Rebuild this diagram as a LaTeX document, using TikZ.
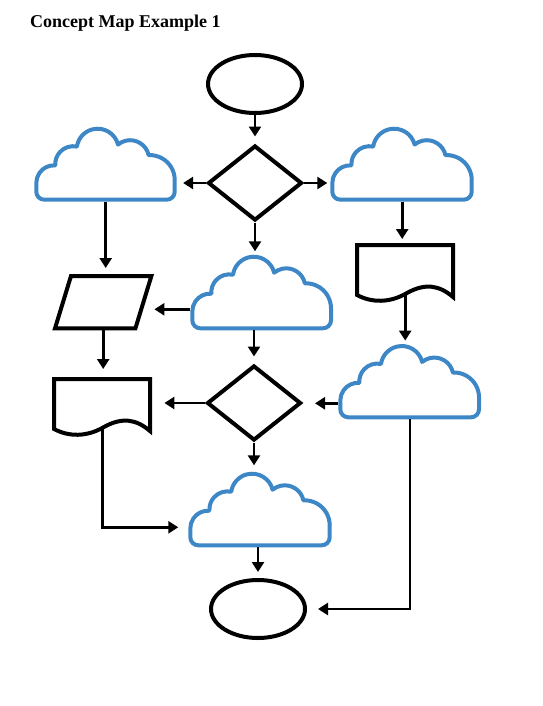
\documentclass[tikz,border=0pt]{standalone}
\usepackage{fontspec}
\setmainfont{Liberation Serif}
\usetikzlibrary{shapes.geometric,arrows.meta,calc}
\definecolor{cloudblue}{HTML}{3D87C6}
\newcommand\cloudoutline{(8,0) -- (130.7,0) arc[start angle=-90,end angle=0,radius=8] -- (138.7,20)
  arc[start angle=0,end angle=92.6,radius=25]
  arc[start angle=12.1,end angle=129.6,radius=19]
  arc[start angle=13.9,end angle=171.8,radius=21]
  arc[start angle=78.1,end angle=184.3,radius=18]
  arc[start angle=85.7,end angle=180,radius=17.7]
  -- (0,8) arc[start angle=180,end angle=270,radius=8] -- cycle}
\newcommand\mkcloud[5]{%
  \begin{scope}[shift={(#2+2,#3-2)}, xscale={(#4-4)/138.7}, yscale={-(#5-4)/71.6}]
    \draw[cloudblue, line width=4pt, fill=white, line join=round] \cloudoutline;
  \end{scope}
  \node[inner sep=0,minimum width=#4*1pt,minimum height=#5*1pt,anchor=south west] (#1) at (#2,#3) {};
}
\tikzset{
  conn/.style={line width=2.7pt, -{Triangle[length=10pt,width=12pt]}},
  shp/.style={draw, line width=4pt, inner sep=0, line join=miter},
  box/.style={inner sep=0, anchor=north west},
}
\begin{document}
\begin{tikzpicture}[x=1pt,y=-1pt]
\useasboundingbox (0,0) rectangle (542,706);
\node[anchor=base west, inner sep=0, font=\bfseries\fontsize{18}{21}\selectfont] (title) at (30,28) {Concept Map Example 1};

% shapes
\node[shp, ellipse, minimum width=94pt, minimum height=58pt] (e1) at (255,84) {};
\node[shp, diamond, minimum width=94pt, minimum height=75pt] (d1) at (255,183) {};
\mkcloud{c1}{34.3}{201.7}{142.4}{75}
\mkcloud{c2}{330.3}{201.7}{143.4}{75}
\mkcloud{c3}{190.3}{330.3}{142.7}{75.6}
\mkcloud{c4}{338.3}{419.3}{142.7}{75.3}
\mkcloud{c5}{188.3}{547.3}{143.4}{75.6}
\node[shp, diamond, minimum width=94pt, minimum height=75pt] (d2) at (254,403) {};
\node[shp, ellipse, minimum width=94pt, minimum height=58pt] (e2) at (258,609) {};

% parallelogram
\node[box, minimum width=96pt, minimum height=52pt] (pg) at (55,276) {};
\draw[shp] ([xshift=16pt]pg.north west) -- (pg.north east) -- ([xshift=-16pt]pg.south east) -- (pg.south west) -- cycle;

% documents
\node[box, minimum width=96pt, minimum height=55pt] (doc1) at (357,245) {};
\begin{scope}[shift={(doc1.north west)}]
\draw[shp] (0,0) -- (96,0) -- (96,52) .. controls (82,40) and (68,38) .. (50,48) .. controls (33,58) and (15,58) .. (0,50) -- cycle;
\end{scope}
\node[box, minimum width=96pt, minimum height=55pt] (doc2) at (54,379) {};
\begin{scope}[shift={(doc2.north west)}]
\draw[shp] (0,0) -- (96,0) -- (96,52) .. controls (82,40) and (68,38) .. (50,48) .. controls (33,58) and (15,58) .. (0,50) -- cycle;
\end{scope}

% connectors
\draw[conn, shorten >=7pt] (e1.south) -- (d1.north);
\draw[conn, shorten >=6pt] (d1.west) -- (d1.west -| c1.east);
\draw[conn, shorten >=3pt] (d1.east) -- (d1.east -| c2.west);
\draw[conn, shorten >=8pt] (c1.south) -- (c1.south |- pg.north);
\draw[conn, shorten >=3pt] (d1.south) -- (d1.south |- c3.north);
\draw[conn, shorten >=6pt] (c2.south) -- (c2.south |- doc1.north);
\coordinate (p1) at ([yshift=21pt]c3.south west);
\draw[conn] (p1) -- ($(p1 -| pg.east)+(3,0)$);
\draw[conn, shorten >=10pt] (pg.south) -- (pg.south |- doc2.north);
\draw[conn, shorten >=7pt] (d2.north |- c3.south) -- (d2.north);
\draw[conn, shorten >=3pt] ([yshift=6pt]doc1.south) -- (doc1.south |- c4.north);
\coordinate (p2) at ([yshift=16pt]c4.south west);
\draw[conn, shorten >=12pt] (p2) -- (p2 -| d2.east);
\draw[conn, shorten >=14pt] (d2.west) -- (d2.west -| doc2.east);
\draw[conn, shorten >=6pt] (d2.south) -- (d2.south |- c5.north);
\draw[conn, shorten >=10pt] ([yshift=6pt]doc2.south) |- ([yshift=20pt]c5.south west);
\draw[conn, shorten >=6pt] (c5.south -| e2.north) -- (e2.north);
\draw[conn, shorten >=11pt] (c4.south) |- (e2.east);
\end{tikzpicture}
\end{document}
